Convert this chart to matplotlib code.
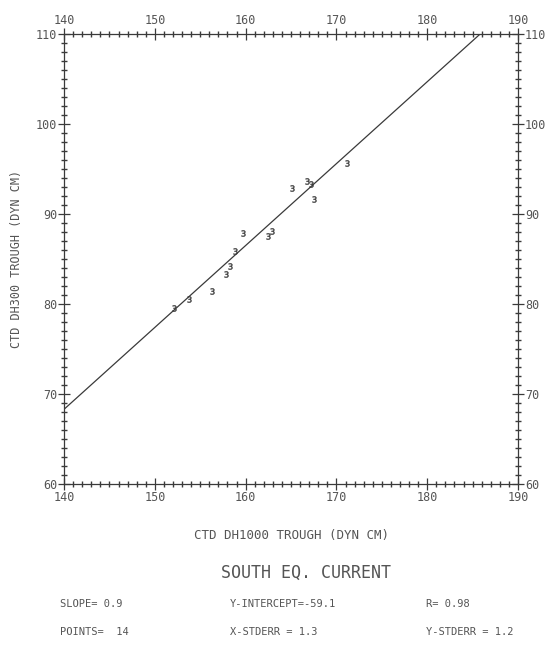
import numpy as np
import matplotlib.pyplot as plt
from matplotlib.ticker import MultipleLocator

# Trough values, DH1000 (x) vs DH300 (y), in dynamic cm
dh1000 = [152.1, 153.8, 156.3, 157.8, 158.3, 158.8, 159.7,
          162.5, 162.9, 165.1, 166.8, 167.2, 167.5, 171.2]
dh300 = [79.6, 80.6, 81.5, 83.3, 84.2, 85.9, 87.9,
         87.6, 88.1, 92.9, 93.7, 93.3, 91.7, 95.7]

# regression results
slope = 0.91
intercept = -59.1
r_val = 0.98
n_pts = 14
x_stderr = 1.3
y_stderr = 1.2

ink = '#3a3a3a'
txt = '#555555'
mono = 'DejaVu Sans Mono'

fig = plt.figure(figsize=(5.51, 6.53), dpi=100)
ax = fig.add_axes([0.1162, 0.2588, 0.8240, 0.6891])

ax.set_xlim(140, 190)
ax.set_ylim(60, 110)

# fitted line
xl = np.array([140, 190])
ax.plot(xl, slope*xl + intercept, color=ink, lw=0.9)

# data points
ax.plot(dh1000, dh300, linestyle='none', marker='$3$', markersize=4.5,
        color=ink, markeredgewidth=0.3)

# plotter style axes: ticks crossing the frame on all four sides
for sp in ax.spines.values():
    sp.set_color(ink)
    sp.set_linewidth(0.9)
ax.xaxis.set_major_locator(MultipleLocator(10))
ax.xaxis.set_minor_locator(MultipleLocator(1))
ax.yaxis.set_major_locator(MultipleLocator(10))
ax.yaxis.set_minor_locator(MultipleLocator(1))
ax.tick_params(which='both', direction='inout', top=True, right=True,
               labeltop=True, labelright=True, color=ink)
ax.tick_params(which='major', length=8, width=0.9, labelsize=8.5,
               labelcolor=txt, pad=1)
ax.tick_params(which='minor', length=4, width=1.0)
for lab in ax.get_xticklabels() + ax.get_yticklabels():
    lab.set_family(mono)

ax.set_xlabel('CTD DH1000 TROUGH (DYN CM)', family=mono, fontsize=9,
              color=txt, labelpad=18)
ax.set_ylabel('CTD DH300 TROUGH (DYN CM)', family=mono, fontsize=8.5,
              color=txt, labelpad=9)

fig.text(0.555, 1 - 573/653, 'SOUTH EQ. CURRENT', family=mono, fontsize=12,
         color=txt, ha='center', va='center')

row1 = 1 - 604/653
row2 = 1 - 632/653
cols = [60/551, 230/551, 426/551]
fig.text(cols[0], row1, 'SLOPE= %.1f' % slope, family=mono, fontsize=7.5,
         color=txt, va='center')
fig.text(cols[1], row1, 'Y-INTERCEPT=%.1f' % intercept, family=mono,
         fontsize=7.5, color=txt, va='center')
fig.text(cols[2], row1, 'R= %.2f' % r_val, family=mono, fontsize=7.5,
         color=txt, va='center')
fig.text(cols[0], row2, 'POINTS=  %d' % n_pts, family=mono, fontsize=7.5,
         color=txt, va='center')
fig.text(cols[1], row2, 'X-STDERR = %.1f' % x_stderr, family=mono,
         fontsize=7.5, color=txt, va='center')
fig.text(cols[2], row2, 'Y-STDERR = %.1f' % y_stderr, family=mono,
         fontsize=7.5, color=txt, va='center')

fig.savefig('out.png', dpi=100)
